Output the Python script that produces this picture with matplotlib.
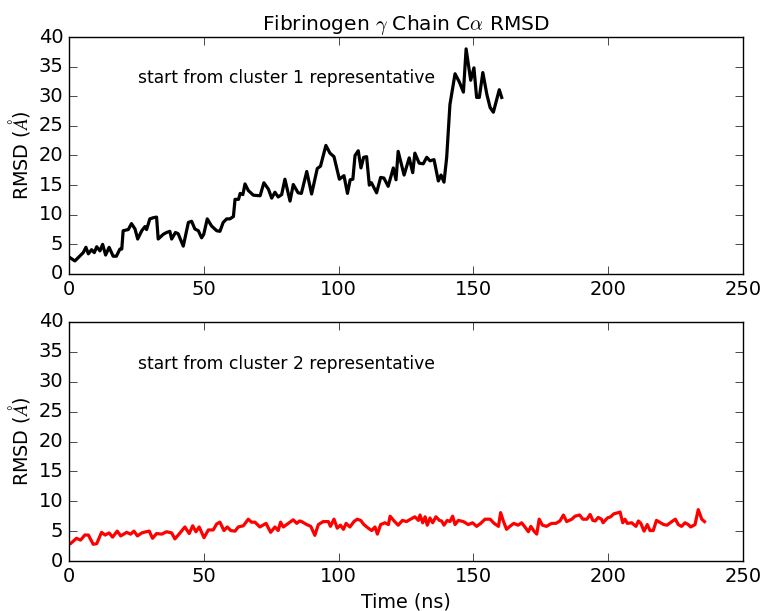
import matplotlib
matplotlib.use("Agg")
import matplotlib.pyplot as plt

# Cluster 1 trajectory (time in ns, RMSD in Angstrom)
t1 = [0.4, 2.2, 5.3, 6.3, 7.2, 8.4, 9.4, 10.3, 11.5, 12.5, 13.6, 14.9, 16.4, 17.6, 18.9, 19.6,
      20.1, 22.0, 23.2, 24.5, 25.5, 27.0, 28.2, 28.8, 30.0, 31.3, 32.5, 33.1, 35.0, 36.2, 37.4,
      38.1, 39.5, 40.5, 42.4, 44.3, 45.5, 46.7, 48.0, 49.2, 50.0, 51.3, 52.9, 54.8, 56.0, 57.2,
      58.5, 59.7, 61.0, 61.6, 62.9, 63.5, 64.5, 65.3, 66.5, 68.4, 70.9, 72.3, 74.0, 75.2, 76.4,
      77.6, 78.9, 80.1, 82.0, 83.2, 85.0, 86.2, 88.2, 90.0, 92.1, 93.3, 95.3, 96.8, 98.3, 100.3,
      102.0, 103.3, 104.3, 105.3, 106.1, 107.3, 108.3, 109.3, 110.4, 111.4, 112.2, 114.1, 115.6,
      116.8, 118.4, 120.3, 121.3, 122.1, 124.3, 126.2, 127.5, 128.3, 129.9, 131.4, 132.7, 133.9,
      135.4, 137.0, 138.0, 139.1, 140.1, 141.3, 143.2, 144.8, 146.3, 147.3, 149.0, 150.2, 151.2,
      152.2, 153.5, 155.0, 156.2, 157.4, 159.6, 160.5]
rmsd1 = [2.75, 2.2, 3.6, 4.5, 3.4, 4.1, 3.6, 4.6, 3.9, 5.0, 3.2, 4.5, 3.0, 3.0, 4.2, 4.2,
         7.3, 7.5, 8.5, 7.6, 5.9, 7.3, 8.0, 7.5, 9.3, 9.5, 9.6, 5.9, 6.7, 7.0, 7.2,
         5.9, 7.0, 6.8, 4.7, 8.7, 8.9, 7.6, 7.3, 6.1, 6.7, 9.3, 8.1, 7.3, 7.2, 8.7,
         9.3, 9.3, 9.7, 12.6, 12.6, 13.6, 13.4, 15.2, 14.1, 13.3, 13.2, 15.4, 14.3, 12.8, 13.8,
         13.0, 13.4, 16.0, 12.3, 15.1, 13.7, 13.6, 17.3, 13.5, 17.8, 18.2, 21.7, 20.4, 19.8, 16.0,
         16.6, 13.6, 15.9, 16.0, 20.0, 20.8, 17.9, 19.7, 19.8, 15.0, 15.4, 13.7, 16.3,
         16.2, 14.8, 17.9, 15.9, 20.7, 16.7, 19.6, 17.1, 20.4, 18.7, 18.6, 19.7, 19.1,
         19.3, 15.7, 16.7, 15.5, 19.7, 28.6, 33.8, 32.4, 30.7, 38.0, 32.7, 34.8, 29.8,
         29.8, 34.0, 30.3, 28.1, 27.3, 31.1, 29.8]

# Cluster 2 trajectory
t2 = [0.7, 2.8, 4.3, 5.9, 7.2, 9.0, 10.3, 12.1, 13.4, 14.9, 16.2, 17.9, 19.2, 21.4, 22.9, 24.1,
      25.4, 27.0, 28.6, 29.8, 31.0, 32.5, 34.4, 36.2, 38.1, 39.3, 41.2, 43.0, 44.6, 45.9, 47.1,
      48.3, 50.1, 51.7, 53.5, 54.8, 56.0, 57.5, 58.7, 60.0, 61.6, 62.8, 64.7, 66.5, 67.7, 69.0,
      70.8, 73.1, 74.8, 76.4, 77.6, 78.5, 79.5, 82.0, 83.2, 84.5, 85.5, 86.3, 88.2, 89.7, 91.2,
      92.5, 94.3, 96.2, 97.0, 98.3, 99.5, 100.7, 101.8, 102.8, 104.2, 105.7, 106.9, 108.2, 109.4,
      111.0, 112.3, 113.5, 114.4, 115.6, 117.2, 118.5, 119.1, 120.6, 122.1, 123.7, 125.2, 126.7,
      128.3, 129.6, 130.2, 131.2, 132.1, 132.9, 133.9, 134.9, 136.1, 137.4, 138.2, 139.1, 140.3,
      141.3, 142.3, 143.2, 144.4, 146.3, 148.1, 149.7, 151.2, 152.7, 154.3, 156.2, 157.7, 159.3,
      160.1, 161.1, 162.3, 163.5, 165.0, 166.6, 167.9, 169.1, 170.4, 171.3, 172.5, 173.5, 174.4,
      175.6, 177.1, 179.0, 180.6, 182.1, 183.4, 184.6, 186.5, 187.7, 189.4, 190.6, 192.1, 193.3,
      194.3, 195.2, 196.3, 197.5, 198.1, 199.7, 200.9, 202.1, 203.8, 204.4, 205.4, 206.2, 207.1,
      208.7, 210.3, 211.2, 212.1, 213.3, 214.5, 215.5, 216.7, 217.9, 219.4, 220.6, 221.8, 223.6,
      224.9, 226.0, 227.2, 228.5, 229.7, 230.6, 232.2, 233.4, 234.7, 235.7]
rmsd2 = [2.96, 3.8, 3.5, 4.35, 4.35, 2.8, 2.9, 4.8, 4.35, 4.7, 4.0, 5.0, 4.2, 4.8, 4.5, 5.0,
         4.2, 4.7, 4.9, 5.0, 3.8, 4.6, 4.5, 4.9, 4.7, 3.7, 4.7, 5.7, 4.6, 5.9, 4.9,
         5.7, 3.9, 5.2, 5.2, 6.2, 6.5, 5.1, 5.7, 5.1, 5.0, 5.7, 5.9, 7.0, 6.5, 6.5,
         5.7, 6.3, 4.8, 5.7, 5.1, 6.5, 5.7, 6.5, 6.9, 6.3, 6.7, 6.6, 6.1, 5.8, 4.3,
         6.1, 6.6, 6.6, 5.8, 7.0, 5.5, 6.0, 5.3, 6.3, 5.7, 6.6, 7.0, 6.8, 6.1,
         5.5, 5.1, 5.7, 4.5, 6.1, 6.4, 6.1, 7.5, 6.7, 6.0, 6.8, 6.6, 7.0,
         7.4, 6.8, 7.7, 6.4, 7.4, 6.0, 7.2, 6.4, 7.4, 6.8, 6.7, 6.0, 6.8,
         6.6, 7.5, 6.1, 6.8, 6.6, 6.1, 6.4, 5.8, 6.3, 7.0, 7.0, 6.3, 5.8,
         8.1, 6.7, 5.3, 5.8, 6.3, 6.0, 6.4, 5.7, 4.9, 5.8, 5.0, 4.5, 7.0,
         6.0, 5.8, 6.3, 6.3, 6.7, 7.7, 6.6, 7.0, 7.5, 7.7, 7.0, 7.0, 7.8,
         6.8, 6.7, 7.3, 7.0, 6.4, 7.2, 7.4, 7.9, 8.1, 8.2, 6.4, 7.0, 6.3,
         6.4, 5.8, 6.7, 6.3, 5.0, 6.1, 5.1, 5.1, 6.8, 6.4, 6.1, 6.0, 6.6,
         7.0, 6.1, 5.8, 6.4, 6.1, 5.7, 6.1, 8.6, 7.0, 6.6]

title = r"Fibrinogen $\gamma$ Chain C$\alpha$ RMSD"
note1 = "start from cluster 1 representative"
note2 = "start from cluster 2 representative"
ylabel = r"RMSD ($\AA$)"
xlabel = "Time (ns)"
yticks = [0, 5, 10, 15, 20, 25, 30, 35, 40]
xticks = [0, 50, 100, 150, 200, 250]

plt.style.use("classic")
plt.rcParams["font.family"] = ["DejaVu Sans"]

fig = plt.figure(figsize=(7.66, 6.11), dpi=100, facecolor="white")
ax1 = fig.add_axes([0.090, 0.5516, 0.880, 0.3878])
ax2 = fig.add_axes([0.090, 0.0818, 0.880, 0.3912])

ax1.plot(t1, rmsd1, color="black", lw=2.3)
ax2.plot(t2, rmsd2, color="red", lw=2.3)

for ax, note in ((ax1, note1), (ax2, note2)):
    ax.set_xlim(0, 250)
    ax.set_ylim(0, 40)
    ax.set_xticks(xticks)
    ax.set_yticks(yticks)
    ax.tick_params(labelsize=14, direction="in", length=6)
    ax.set_ylabel(ylabel, fontsize=13.8)
    ax.text(25.7, 33, note, fontsize=12.3, ha="left", va="center")

ax1.set_title(title, fontsize=14.5)
ax2.set_xlabel(xlabel, fontsize=13.8)

fig.savefig("out.png", dpi=100, facecolor="white")
